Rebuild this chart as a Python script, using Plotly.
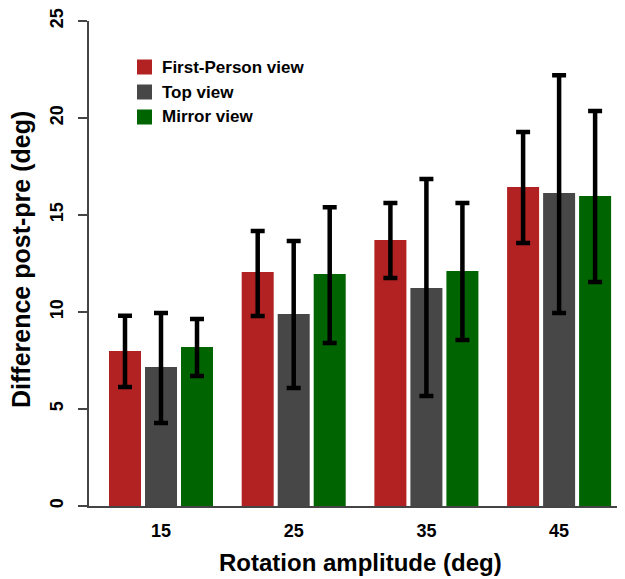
import plotly.graph_objects as go

categories = ["15", "25", "35", "45"]
series_names = ["First-Person view", "Top view", "Mirror view"]
colors = ["#B22222", "#474747", "#006400"]

fp_mean = [7.99, 12.06, 13.71, 16.44]
fp_upper = [9.81, 14.18, 15.62, 19.28]
fp_lower = [6.13, 9.80, 11.75, 13.56]

top_mean = [7.16, 9.90, 11.24, 16.13]
top_upper = [9.95, 13.66, 16.86, 22.20]
top_lower = [4.28, 6.08, 5.67, 9.95]

mir_mean = [8.20, 11.96, 12.11, 15.98]
mir_upper = [9.64, 15.40, 15.62, 20.36]
mir_lower = [6.70, 8.40, 8.56, 11.55]

y_ticks = [0, 5, 10, 15, 20, 25]

FONT = "Liberation Sans, Arial, sans-serif"
# the page body has an 8px margin, so the figure is 8px smaller than the window
OFF = 8
W, H = 625 - OFF, 579 - OFF
L, R, T, B = 89 - OFF, 0, 21 - OFF, 73
PW, PH = W - L - R, H - T - B


def px(x):  # page pixel -> paper
    return (x - OFF - L) / PW


def py(y):  # page pixel -> paper
    return (H - B - (y - OFF)) / PH


fig = go.Figure()
for name, color, m, up, lo in [
    (series_names[0], colors[0], fp_mean, fp_upper, fp_lower),
    (series_names[1], colors[1], top_mean, top_upper, top_lower),
    (series_names[2], colors[2], mir_mean, mir_upper, mir_lower),
]:
    fig.add_trace(go.Bar(
        x=categories, y=m, name=name,
        marker=dict(color=color, line=dict(width=0)),
        error_y=dict(type="data", symmetric=False,
                     array=[u - v for u, v in zip(up, m)],
                     arrayminus=[v - l for v, l in zip(m, lo)],
                     color="black", thickness=4.5, width=7),
        showlegend=False,
    ))

# manual legend
leg_y = [67, 92, 117]
for name, color, yy in zip(series_names, colors, leg_y):
    fig.add_shape(type="rect", xref="paper", yref="paper",
                  x0=px(137), x1=px(152), y0=py(yy + 7.5), y1=py(yy - 7.5),
                  fillcolor=color, line=dict(width=0))
    fig.add_annotation(text="<b>%s</b>" % name, xref="paper", yref="paper",
                       x=px(160), y=py(yy), xanchor="left", yanchor="middle",
                       showarrow=False,
                       font=dict(family=FONT, size=17, color="black"))

# axis titles
fig.add_annotation(text="<b>Rotation amplitude (deg)</b>", xref="paper", yref="paper",
                   x=px(360), y=py(562), xanchor="center", yanchor="middle",
                   showarrow=False, font=dict(family=FONT, size=24, color="black"))
fig.add_annotation(text="<b>Difference post-pre (deg)</b>", xref="paper", yref="paper",
                   x=px(21), y=py(260), xanchor="center", yanchor="middle",
                   textangle=-90, showarrow=False,
                   font=dict(family=FONT, size=25, color="black"))

fig.update_layout(
    width=W, height=H,
    margin=dict(l=L, r=R, t=T, b=B, autoexpand=False),
    paper_bgcolor="white", plot_bgcolor="white",
    barmode="group", bargap=0.186, bargroupgap=0.111,
    font=dict(family=FONT, color="black"),
    xaxis=dict(type="category", range=[-0.5426, 3.4966], automargin=False,
               showline=True, linecolor="#444444", linewidth=1.5,
               ticks="outside", ticklen=8, tickcolor="rgba(0,0,0,0)",
               tickfont=dict(family=FONT, size=18, color="black"),
               tickvals=categories, ticktext=["<b>%s</b>" % c for c in categories],
               showgrid=False, zeroline=False),
    yaxis=dict(range=[0, 25], tickvals=y_ticks, automargin=False,
               ticktext=["<b>%d</b>" % v for v in y_ticks],
               tickangle=-90, ticklabelstandoff=8,
               showline=True, linecolor="#444444", linewidth=1.5,
               ticks="outside", ticklen=9, tickcolor="#444444", tickwidth=1.5,
               tickfont=dict(family=FONT, size=18, color="black"),
               showgrid=False, zeroline=False),
)

fig.write_html("out.html")
